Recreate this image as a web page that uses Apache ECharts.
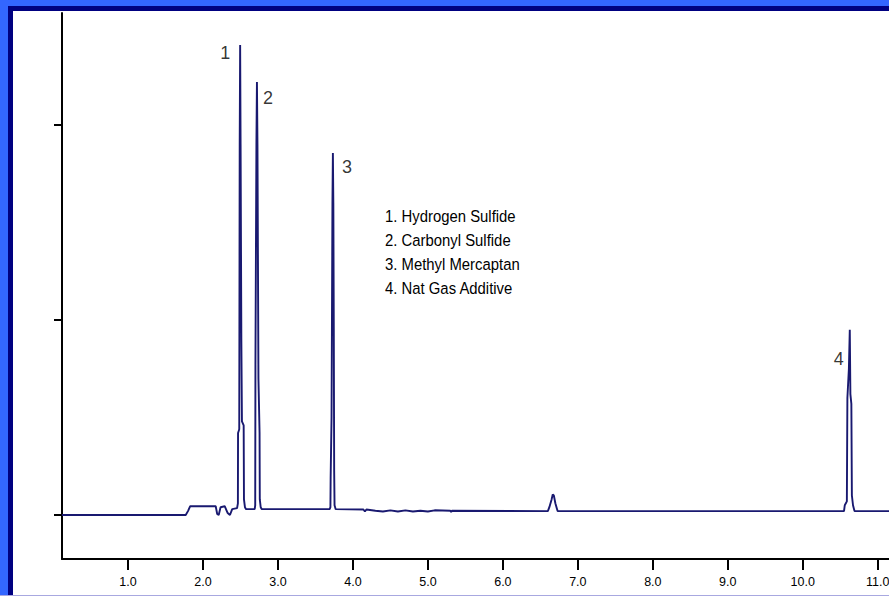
<!DOCTYPE html>
<html>
<head>
<meta charset="utf-8">
<script src="https://cdn.jsdelivr.net/npm/echarts@6/dist/echarts.min.js"></script>
<style>
  html, body { margin: 0; padding: 0; }
  body { width: 889px; height: 596px; position: relative; overflow: hidden; background: #3366ff; }
  #navy { position: absolute; left: 8px; top: 6px; right: 0; bottom: 1px; background: #000080; }
  #paper { position: absolute; left: 13px; top: 11px; right: 0; bottom: 1px; background: #ffffff; }
  #bottomline { position: absolute; left: 0; right: 0; bottom: 0; height: 1px; background: #a8a8e0; }
  #chart { position: absolute; left: 0; top: 0; width: 889px; height: 596px; }
</style>
</head>
<body>
<div id="navy"></div>
<div id="paper"></div>
<div id="bottomline"></div>
<div id="chart"></div>
<script>
// ---- data ----
const retentionTimes = [
  0.12, 1.77, 1.80, 1.83, 2.17, 2.19, 2.21, 2.235, 2.29, 2.33, 2.36, 2.39, 2.455,
  2.466, 2.468, 2.484, 2.490, 2.496, 2.502, 2.512, 2.520, 2.543, 2.547, 2.560, 2.575,
  2.690, 2.697, 2.700, 2.713, 2.720, 2.727, 2.740, 2.755, 2.758, 2.770, 2.785,
  3.690, 3.700, 3.703, 3.715, 3.727, 3.733, 3.739, 3.745, 3.750, 3.755, 3.770,
  4.14, 4.16, 4.18, 4.30, 4.40, 4.50, 4.60, 4.70, 4.80, 4.90, 5.00, 5.09, 5.30, 5.31, 5.32,
  6.60, 6.62, 6.65, 6.665, 6.68, 6.70, 6.73,
  10.55, 10.56, 10.588, 10.595, 10.615, 10.627, 10.635, 10.648, 10.655, 10.67, 10.69, 11.15
];
const signal = [
  0, 0, 0.02, 0.045, 0.045, 0.005, 0.0, 0.04, 0.045, 0.01, 0.0, 0.03, 0.035,
  0.06, 0.42, 0.44, 1.9, 2.41, 1.9, 0.9, 0.48, 0.46, 0.08, 0.04, 0.03,
  0.03, 0.05, 0.77, 1.9, 2.22, 1.9, 0.7, 0.42, 0.08, 0.04, 0.03,
  0.03, 0.04, 0.19, 0.5, 1.6, 1.856, 1.6, 0.95, 0.23, 0.05, 0.03,
  0.028, 0.018, 0.028, 0.022, 0.018, 0.024, 0.018, 0.024, 0.018, 0.022, 0.018, 0.024, 0.022, 0.015, 0.022,
  0.02, 0.04, 0.08, 0.105, 0.10, 0.06, 0.02,
  0.02, 0.05, 0.07, 0.6, 0.75, 0.95, 0.62, 0.57, 0.1, 0.05, 0.02, 0.02
];
const peakLabels = ['1', '2', '3', '4'];
const peakTimes = [2.496, 2.720, 3.733, 10.627];
const peakHeights = [2.41, 2.22, 1.856, 0.95];
const legendLines = [
  '1. Hydrogen Sulfide',
  '2. Carbonyl Sulfide',
  '3. Methyl Mercaptan',
  '4. Nat Gas Additive'
];
const xTickValues = [1, 2, 3, 4, 5, 6, 7, 8, 9, 10, 11];
const yTickValues = [0, 1, 2];

// ---- build options ----
const lineData = retentionTimes.map((t, i) => [t, signal[i]]);
const labelOffsets = [[-15, 8], [11, 16], [14, 14], [-11, 29]];
const peakData = peakTimes.map((t, i) => ({
  value: [t, peakHeights[i]],
  name: peakLabels[i],
  label: { offset: labelOffsets[i] }
}));

const chart = echarts.init(document.getElementById('chart'), null, { renderer: 'svg' });
chart.setOption({
  animation: false,
  backgroundColor: 'transparent',
  grid: { left: 62, right: 0, top: 13, bottom: 37, containLabel: false, outerBoundsMode: 'none' },
  xAxis: {
    type: 'value',
    min: 0.12,
    max: 11.15,
    axisLine: { show: true, onZero: false, lineStyle: { color: '#000', width: 2 } },
    axisTick: { show: true, customValues: xTickValues, length: 11, lineStyle: { color: '#000', width: 2 } },
    axisLabel: {
      customValues: xTickValues,
      formatter: v => Number(v).toFixed(1),
      color: '#000',
      fontSize: 12.5,
      fontFamily: 'Liberation Sans, Arial, sans-serif',
      margin: 16
    },
    splitLine: { show: false }
  },
  yAxis: {
    type: 'value',
    min: -0.2256,
    max: 2.574,
    axisLine: { show: true, onZero: false, lineStyle: { color: '#000', width: 2 } },
    axisTick: { show: true, customValues: yTickValues, length: 8, lineStyle: { color: '#000', width: 2 } },
    axisLabel: { show: false },
    splitLine: { show: false }
  },
  series: [
    {
      type: 'line',
      data: lineData,
      showSymbol: false,
      symbol: 'none',
      lineStyle: { color: '#191970', width: 1.9 },
      z: 2
    },
    {
      type: 'scatter',
      data: peakData,
      symbolSize: 0,
      itemStyle: { color: 'transparent' },
      label: {
        show: true,
        position: 'inside',
        formatter: p => p.name,
        color: '#000',
        fontSize: 18,
        fontFamily: 'Liberation Sans, Arial, sans-serif'
      },
      z: 3
    }
  ],
  graphic: [
    {
      type: 'group',
      left: 385,
      top: 208,
      scaleX: 0.875,
      children: legendLines.map((s, i) => ({
        type: 'text',
        x: 0,
        y: i * 24,
        style: {
          text: s,
          fill: '#000',
          font: '17px "Liberation Sans", Arial, sans-serif',
          textAlign: 'left',
          textVerticalAlign: 'top'
        }
      }))
    }
  ]
});
</script>
</body>
</html>
